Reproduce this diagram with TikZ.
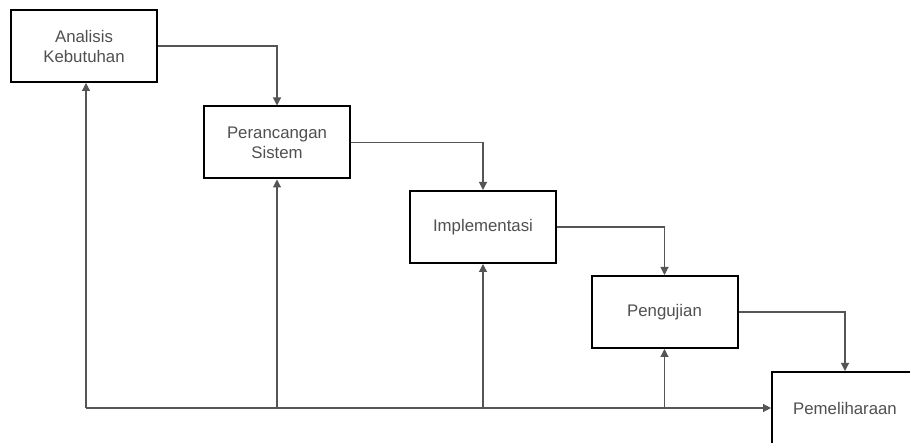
\documentclass[tikz,border=0pt]{standalone}
\usepackage{fontspec}
\setmainfont{Liberation Sans}
\usetikzlibrary{arrows.meta}
\definecolor{txtgray}{HTML}{505050}
\definecolor{linegray}{HTML}{555555}
\tikzset{
  stagebox/.style={draw=black, line width=2pt, fill=white, minimum width=146pt, minimum height=72pt,
    inner sep=0pt, align=center, text=txtgray, font=\fontsize{16.8}{20}\selectfont},
  conn/.style={draw=linegray, line width=1.1pt, -{Triangle[length=8pt,width=8pt]}},
}
\begin{document}
\begin{tikzpicture}[x=1pt,y=-1pt]
\useasboundingbox (0,0) rectangle (910,443);
\clip (0,0) rectangle (910,443);
\fill[white] (0,0) rectangle (910,443);
\node[stagebox] (b1) at (84,46) {Analisis\\Kebutuhan};
\node[stagebox] (b2) at (277,142.5) {Perancangan\\Sistem};
\node[stagebox] (b3) at (483,227) {Implementasi};
\node[stagebox] (b4) at (664.5,312) {Pengujian};
\node[stagebox] (b5) at (845,408) {Pemeliharaan};
\coordinate (s) at (86,408);
\draw[conn] (b1.east) -| (b2.north);
\draw[conn] (b2.east) -| (b3.north);
\draw[conn] (b3.east) -| (b4.north);
\draw[conn] (b4.east) -| (b5.north);
\draw[conn] (s) -- (b5.west);
\draw[conn] (s) -- (s |- b1.south);
\draw[conn] (b2.south |- s) -- (b2.south);
\draw[conn] (b3.south |- s) -- (b3.south);
\draw[conn] (b4.south |- s) -- (b4.south);
\end{tikzpicture}
\end{document}
